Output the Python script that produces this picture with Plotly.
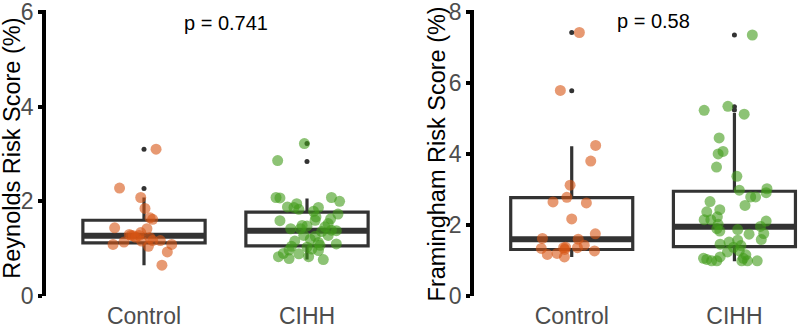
import plotly.graph_objects as go

groups = ["Control", "CIHH"]
group_pos = [0, 1]

# ---------------- Reynolds Risk Score (%) ----------------
rey_ctrl_y = [3.10, 2.28, 2.08, 1.85, 1.65, 1.62, 1.44, 1.42, 1.34, 1.30, 1.28, 1.27,
              1.28, 1.24, 1.23, 1.14, 1.09, 1.16, 1.17, 1.17, 1.05, 1.09, 0.93, 0.65]
rey_ctrl_jit = [0.074, -0.15, -0.02, 0.006, 0.037, 0.053, -0.18, 0.018, -0.02, -0.09, -0.08, -0.066,
                -0.03, -0.05, 0.037, -0.123, -0.19, -0.015, 0.053, 0.10, 0.027, 0.17, 0.143, 0.11]
rey_cihh_y = [3.22, 2.86, 2.08, 2.07, 2.08, 2.00, 1.88, 1.87, 1.95, 1.83, 1.87, 1.79,
              1.73, 1.67, 1.60, 1.59, 1.63, 1.42, 1.42, 1.48, 1.46, 1.53, 1.39, 1.38,
              1.36, 1.28, 1.26, 1.28, 1.16, 1.13, 1.10, 1.05, 1.03, 0.99, 0.97, 0.96,
              0.89, 0.90, 0.83, 0.79, 0.83, 0.77, 1.20, 1.49, 1.07]
rey_cihh_jit = [-0.016, -0.18, -0.19, -0.166, 0.15, 0.20, -0.12, -0.08, -0.063, -0.05, 0.07, 0.04,
                0.19, 0.055, 0.05, -0.166, 0.145, -0.10, -0.04, 0.0, 0.11, 0.13, 0.15, 0.18,
                0.09, -0.02, 0.05, 0.13, -0.075, 0.07, 0.18, -0.095, 0.0, 0.03, -0.11, 0.07,
                -0.05, -0.145, -0.175, -0.11, 0.01, 0.10, 0.02, -0.03, 0.08]
rey_q1 = [1.12, 1.06]
rey_median = [1.27, 1.38]
rey_q3 = [1.60, 1.77]
rey_lower = [0.65, 0.77]
rey_upper = [2.08, 2.06]
rey_out_ctrl = [3.10, 2.27]
rey_out_cihh = [3.22, 2.84]
rey_p = "p = 0.741"
rey_title = "Reynolds Risk Score (%)"
rey_ticks = [0, 2, 4, 6]

# ---------------- Framingham Risk Score (%) ----------------
fra_ctrl_y = [7.42, 5.79, 4.24, 3.80, 3.12, 2.78, 2.65, 2.62, 2.17, 1.75, 1.62, 1.60,
              1.43, 1.36, 1.34, 1.36, 1.37, 1.31, 1.27, 1.17, 1.20, 1.10]
fra_ctrl_jit = [0.047, -0.07, 0.147, 0.117, -0.01, -0.03, -0.115, 0.09, 0.0, 0.145, -0.18, 0.04,
                0.077, 0.035, -0.187, -0.05, -0.037, -0.043, 0.14, -0.15, -0.09, -0.045]
fra_cihh_y = [7.35, 5.23, 5.34, 5.12, 4.45, 4.00, 4.07, 3.63, 3.37, 2.98, 3.02, 2.91,
              2.79, 2.79, 2.55, 2.66, 2.43, 2.37, 2.23, 2.15, 2.15, 2.02, 2.11, 1.96,
              1.90, 1.83, 1.87, 1.76, 1.74, 1.59, 1.46, 1.52, 1.57, 1.42, 1.37, 1.27,
              1.24, 1.10, 1.06, 1.03, 0.99, 0.99, 1.06, 1.16, 0.99, 0.99, 0.99]
fra_cihh_jit = [0.11, -0.186, -0.04, 0.06, -0.094, -0.10, -0.07, -0.11, 0.015, 0.03, 0.20, 0.195,
                0.10, 0.13, 0.065, -0.15, -0.09, -0.17, -0.105, -0.186, -0.145, -0.10, 0.195, 0.16,
                -0.108, -0.09, 0.02, 0.18, 0.09, 0.165, -0.088, -0.033, 0.02, 0.04, -0.006, 0.03,
                -0.043, -0.088, -0.19, -0.17, -0.14, -0.108, 0.055, 0.07, 0.045, 0.08, 0.14]
fra_q1 = [1.31, 1.39]
fra_median = [1.60, 1.95]
fra_q3 = [2.77, 2.95]
fra_lower = [1.10, 0.98]
fra_upper = [4.22, 5.15]
fra_out_ctrl = [7.42, 5.78]
fra_out_cihh = [7.35, 5.33, 5.24]
fra_p = "p = 0.58"
fra_title = "Framingham Risk Score (%)"
fra_ticks = [0, 2, 4, 6, 8]

CTRL_COLOR = "rgba(215,85,20,0.6)"
CIHH_COLOR = "rgba(65,155,25,0.6)"
BOX_COLOR = "#333333"
BOX_W = 0.75
FONT = "Liberation Sans, Arial, sans-serif"

fig = go.Figure()


def add_panel(xa, ya, q1, med, q3, lo, hi, out_c, out_h, cy, cj, hy, hj):
    fig.add_trace(go.Box(
        x=group_pos, q1=q1, median=med, q3=q3, lowerfence=lo, upperfence=hi,
        width=BOX_W, whiskerwidth=0, fillcolor="white",
        line=dict(color=BOX_COLOR, width=3.2), boxpoints=False,
        xaxis=xa, yaxis=ya, showlegend=False, hoverinfo="skip"))
    for i, m in enumerate(med):
        fig.add_trace(go.Scatter(
            x=[group_pos[i] - BOX_W / 2, group_pos[i] + BOX_W / 2], y=[m, m],
            mode="lines", line=dict(color=BOX_COLOR, width=6),
            xaxis=xa, yaxis=ya, showlegend=False, hoverinfo="skip"))
    for i, outs in enumerate([out_c, out_h]):
        fig.add_trace(go.Scatter(
            x=[group_pos[i]] * len(outs), y=outs, mode="markers",
            marker=dict(color=BOX_COLOR, size=5),
            xaxis=xa, yaxis=ya, showlegend=False, hoverinfo="skip"))
    fig.add_trace(go.Scatter(
        x=[group_pos[0] + j for j in cj], y=cy, mode="markers",
        marker=dict(color=CTRL_COLOR, size=11, line=dict(width=0)),
        xaxis=xa, yaxis=ya, showlegend=False))
    fig.add_trace(go.Scatter(
        x=[group_pos[1] + j for j in hj], y=hy, mode="markers",
        marker=dict(color=CIHH_COLOR, size=11, line=dict(width=0)),
        xaxis=xa, yaxis=ya, showlegend=False))


add_panel("x", "y", rey_q1, rey_median, rey_q3, rey_lower, rey_upper,
          rey_out_ctrl, rey_out_cihh, rey_ctrl_y, rey_ctrl_jit, rey_cihh_y, rey_cihh_jit)
add_panel("x2", "y2", fra_q1, fra_median, fra_q3, fra_lower, fra_upper,
          fra_out_ctrl, fra_out_cihh, fra_ctrl_y, fra_ctrl_jit, fra_cihh_y, fra_cihh_jit)

xcommon = dict(tickmode="array", tickvals=group_pos, ticktext=groups, showline=False,
               showgrid=False, zeroline=False, ticks="", automargin=False,
               ticklabelstandoff=4,
               tickfont=dict(size=23, color="#4D4D4D", family=FONT), fixedrange=True)
ycommon = dict(showline=True, linewidth=4, linecolor="black", ticks="outside",
               ticklen=4, tickwidth=4, tickcolor="black", showgrid=False, zeroline=False,
               automargin=False, tickmode="array", ticklabeloverflow="allow",
               tickfont=dict(size=23, color="#4D4D4D", family=FONT))

fig.update_layout(
    width=800, height=328,
    margin=dict(l=0, r=0, t=10, b=32),
    paper_bgcolor="white", plot_bgcolor="white",
    font=dict(family=FONT, color="black"),
    xaxis=dict(domain=[46.2 / 800, 404.8 / 800], range=[-0.6, 1.6], anchor="y", **xcommon),
    xaxis2=dict(domain=[474.1 / 800, 1.0], range=[-0.6, 1.403], anchor="y2", **xcommon),
    yaxis=dict(range=[0, 6.04], anchor="x", tickvals=rey_ticks, **ycommon),
    yaxis2=dict(range=[0, 8.054], anchor="x2", tickvals=fra_ticks, **ycommon),
    annotations=[
        dict(text=rey_p, x=0.5, y=5.77, xref="x", yref="y", showarrow=False,
             font=dict(size=20, color="black")),
        dict(text=fra_p, x=0.5, y=7.75, xref="x2", yref="y2", showarrow=False,
             font=dict(size=20, color="black")),
        dict(text=rey_title, textangle=-90, x=12 / 800, y=0.515, xref="paper", yref="paper",
             xanchor="center", yanchor="middle", showarrow=False,
             font=dict(size=23.5, color="black")),
        dict(text=fra_title, textangle=-90, x=437 / 800, y=0.495, xref="paper", yref="paper",
             xanchor="center", yanchor="middle", showarrow=False,
             font=dict(size=23.5, color="black")),
    ],
)

fig.write_html("out.html")
